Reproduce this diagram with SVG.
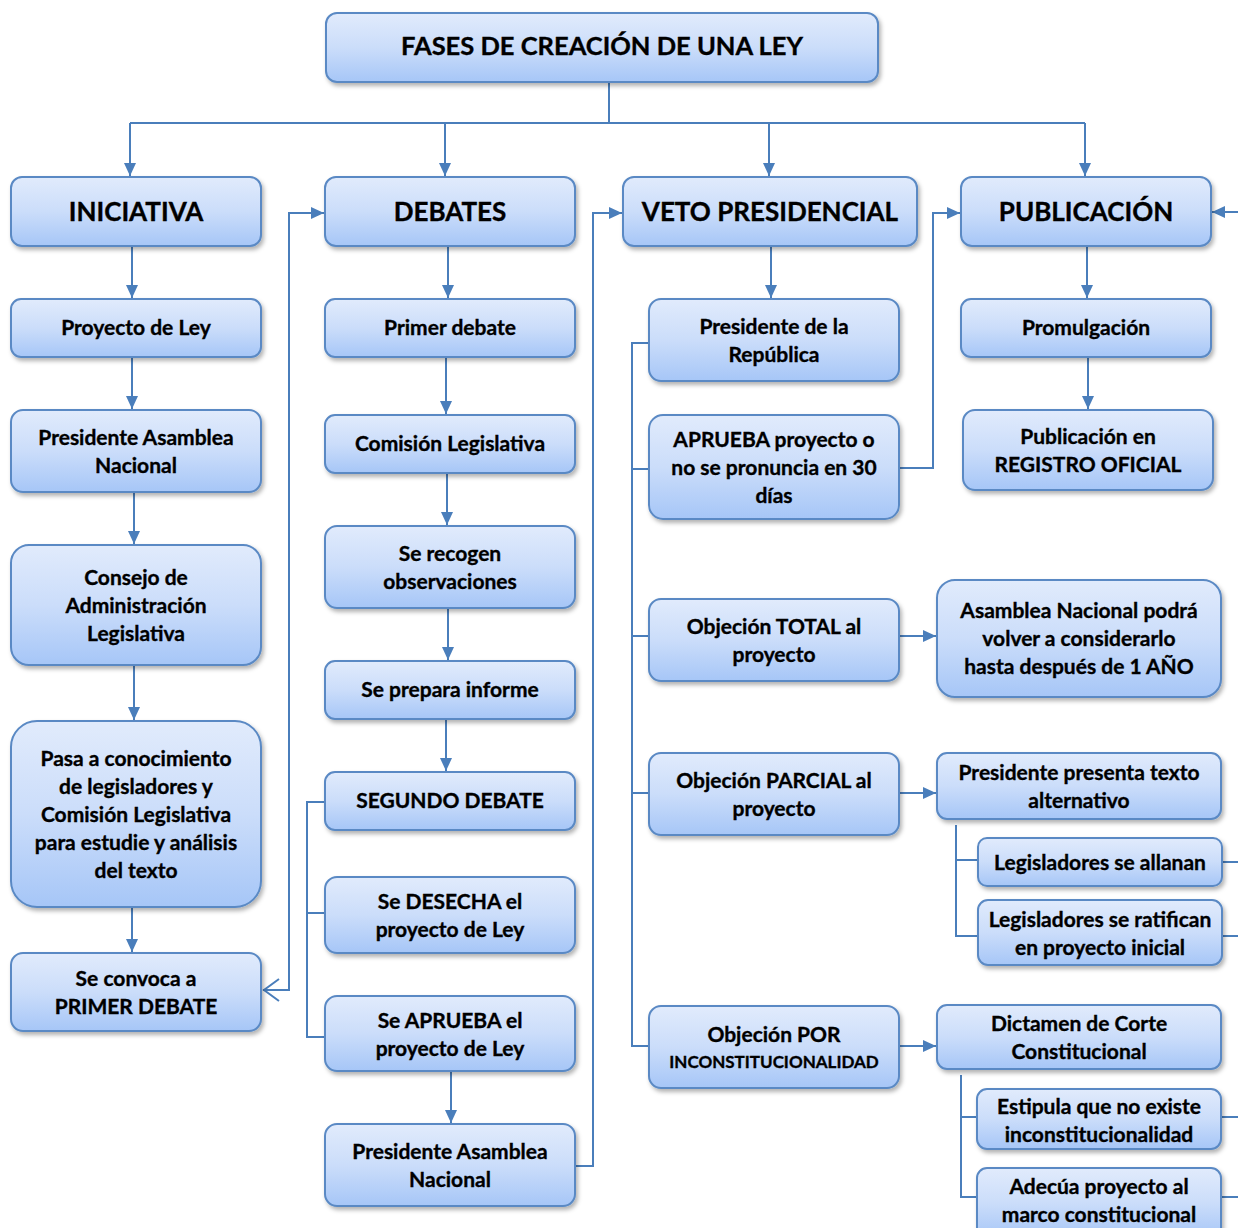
<svg xmlns="http://www.w3.org/2000/svg" width="1238" height="1228" viewBox="0 0 1238 1228">
<style>
.b{fill:url(#g);stroke:#5a89c4;stroke-width:2;filter:url(#sh)}
.t{font-family:Lato,"Open Sans","Liberation Sans",sans-serif;font-weight:bold;font-size:21px;fill:#000;stroke:#000;stroke-width:0.35;text-anchor:middle}
.h{font-size:26px}
.c{fill:none;stroke:#4a7ebb;stroke-width:2}
.a{marker-end:url(#ah)}
</style>
<defs>
<linearGradient id="g" x1="0" y1="0" x2="0" y2="1">
<stop offset="0" stop-color="#e1ebfc"/>
<stop offset="0.5" stop-color="#cbddfa"/>
<stop offset="1" stop-color="#a6c6f7"/>
</linearGradient>
<filter id="sh" x="-10%" y="-10%" width="125%" height="130%">
<feDropShadow dx="2" dy="3" stdDeviation="2" flood-color="#000" flood-opacity="0.3"/>
</filter>
<marker id="ah" markerWidth="14" markerHeight="14" refX="13" refY="7" orient="auto" markerUnits="userSpaceOnUse">
<path d="M0,1 L13,7 L0,13 z" fill="#4a7ebb"/>
</marker>
</defs>
<g id="connectors">
<path class="c" d="M609,82 V123 M130,123 H1085"/>
<path class="c a" d="M130,123 V176"/>
<path class="c a" d="M445,123 V176"/>
<path class="c a" d="M769,123 V176"/>
<path class="c a" d="M1085,123 V176"/>
<path class="c a" d="M132,247 V298"/>
<path class="c a" d="M132,358 V409"/>
<path class="c a" d="M134,493 V544"/>
<path class="c a" d="M134,666 V720"/>
<path class="c a" d="M132,908 V952"/>
<path class="c a" d="M448,247 V298"/>
<path class="c a" d="M446,358 V414"/>
<path class="c a" d="M447,474 V525"/>
<path class="c a" d="M448,609 V660"/>
<path class="c a" d="M446,720 V771"/>
<path class="c a" d="M451,1072 V1123"/>
<path class="c a" d="M771,247 V298"/>
<path class="c a" d="M1087,247 V298"/>
<path class="c a" d="M1088,358 V409"/>
<path class="c a" d="M263,990 H289 V213 H324"/>
<path class="c" d="M279,979 L264,990 L279,1001"/>
<path class="c a" d="M576,1166 H593 V213 H622"/>
<path class="c a" d="M900,468 H933 V213 H960"/>
<path class="c a" d="M1238,212 H1212"/>
<path class="c" d="M325,802 H307 V1037 H325 M307,913 H325"/>
<path class="c" d="M649,343 H632 V1046 H649 M632,469 H649 M632,636 H649 M632,793 H649"/>
<path class="c a" d="M900,636 H936"/>
<path class="c a" d="M900,793 H936"/>
<path class="c a" d="M900,1046 H936"/>
<path class="c" d="M956,825 V936 H977 M956,860 H977"/>
<path class="c" d="M1222,862 H1238 M1222,936 H1238"/>
<path class="c" d="M961,1075 V1197 H976 M961,1117 H976"/>
<path class="c" d="M1222,1117 H1238 M1222,1197 H1238"/>
</g>
<g id="n-title"><rect class="b" x="326" y="13" width="552" height="69" rx="11"/><text class="t" x="602" y="55" style="font-size:25.5px">FASES DE CREACIÓN DE UNA LEY</text></g>
<g id="n-iniciativa"><rect class="b" x="11" y="177" width="250" height="69" rx="11"/><text class="t h" x="136" y="221">INICIATIVA</text></g>
<g id="n-debates"><rect class="b" x="325" y="177" width="250" height="69" rx="11"/><text class="t h" x="450" y="221">DEBATES</text></g>
<g id="n-veto"><rect class="b" x="623" y="177" width="294" height="69" rx="11"/><text class="t h" x="770" y="221">VETO PRESIDENCIAL</text></g>
<g id="n-publicacion"><rect class="b" x="961" y="177" width="250" height="69" rx="11"/><text class="t h" x="1086" y="221">PUBLICACIÓN</text></g>
<g id="n-proyecto"><rect class="b" x="11" y="299" width="250" height="58" rx="10"/><text class="t" x="136" y="335">Proyecto de Ley</text></g>
<g id="n-pres-asamblea1"><rect class="b" x="11" y="410" width="250" height="82" rx="12"/><text class="t" x="136" y="445">Presidente Asamblea</text><text class="t" x="136" y="473">Nacional</text></g>
<g id="n-consejo"><rect class="b" x="11" y="545" width="250" height="120" rx="18"/><text class="t" x="136" y="585">Consejo de</text><text class="t" x="136" y="613">Administración</text><text class="t" x="136" y="641">Legislativa</text></g>
<g id="n-pasa"><rect class="b" x="11" y="721" width="250" height="186" rx="26"/><text class="t" x="136" y="766">Pasa a conocimiento</text><text class="t" x="136" y="794">de legisladores y</text><text class="t" x="136" y="822">Comisión Legislativa</text><text class="t" x="136" y="850">para estudie y análisis</text><text class="t" x="136" y="878">del texto</text></g>
<g id="n-convoca"><rect class="b" x="11" y="953" width="250" height="78" rx="12"/><text class="t" x="136" y="986">Se convoca a</text><text class="t" x="136" y="1014">PRIMER DEBATE</text></g>
<g id="n-primer"><rect class="b" x="325" y="299" width="250" height="58" rx="10"/><text class="t" x="450" y="335">Primer debate</text></g>
<g id="n-comision"><rect class="b" x="325" y="415" width="250" height="58" rx="10"/><text class="t" x="450" y="451">Comisión Legislativa</text></g>
<g id="n-recogen"><rect class="b" x="325" y="526" width="250" height="82" rx="12"/><text class="t" x="450" y="561">Se recogen</text><text class="t" x="450" y="589">observaciones</text></g>
<g id="n-informe"><rect class="b" x="325" y="661" width="250" height="58" rx="10"/><text class="t" x="450" y="697">Se prepara informe</text></g>
<g id="n-segundo"><rect class="b" x="325" y="772" width="250" height="58" rx="10"/><text class="t" x="450" y="808">SEGUNDO DEBATE</text></g>
<g id="n-desecha"><rect class="b" x="325" y="877" width="250" height="76" rx="12"/><text class="t" x="450" y="909">Se DESECHA el</text><text class="t" x="450" y="937">proyecto de Ley</text></g>
<g id="n-aprueba"><rect class="b" x="325" y="996" width="250" height="75" rx="12"/><text class="t" x="450" y="1028">Se APRUEBA el</text><text class="t" x="450" y="1056">proyecto de Ley</text></g>
<g id="n-pres-asamblea2"><rect class="b" x="325" y="1124" width="250" height="82" rx="12"/><text class="t" x="450" y="1159">Presidente Asamblea</text><text class="t" x="450" y="1187">Nacional</text></g>
<g id="n-pres-republica"><rect class="b" x="649" y="299" width="250" height="82" rx="12"/><text class="t" x="774" y="334">Presidente de la</text><text class="t" x="774" y="362">República</text></g>
<g id="n-aprueba-veto"><rect class="b" x="649" y="415" width="250" height="104" rx="14"/><text class="t" x="774" y="447">APRUEBA proyecto o</text><text class="t" x="774" y="475">no se pronuncia en 30</text><text class="t" x="774" y="503">días</text></g>
<g id="n-total"><rect class="b" x="649" y="599" width="250" height="82" rx="12"/><text class="t" x="774" y="634">Objeción TOTAL al</text><text class="t" x="774" y="662">proyecto</text></g>
<g id="n-parcial"><rect class="b" x="649" y="753" width="250" height="82" rx="12"/><text class="t" x="774" y="788">Objeción PARCIAL al</text><text class="t" x="774" y="816">proyecto</text></g>
<g id="n-inconst"><rect class="b" x="649" y="1006" width="250" height="82" rx="12"/><text class="t" x="774" y="1042">Objeción POR</text><text class="t" x="774" y="1068" style="font-size:17px">INCONSTITUCIONALIDAD</text></g>
<g id="n-asamblea-ano"><rect class="b" x="937" y="580" width="284" height="117" rx="18"/><text class="t" x="1079" y="618">Asamblea Nacional podrá</text><text class="t" x="1079" y="646">volver a considerarlo</text><text class="t" x="1079" y="674">hasta después de 1 AÑO</text></g>
<g id="n-texto-alt"><rect class="b" x="937" y="753" width="284" height="66" rx="10"/><text class="t" x="1079" y="780">Presidente presenta texto</text><text class="t" x="1079" y="808">alternativo</text></g>
<g id="n-allanan"><rect class="b" x="978" y="838" width="244" height="48" rx="9"/><text class="t" x="1100" y="870">Legisladores se allanan</text></g>
<g id="n-ratifican"><rect class="b" x="978" y="900" width="244" height="65" rx="10"/><text class="t" x="1100" y="927">Legisladores se ratifican</text><text class="t" x="1100" y="955">en proyecto inicial</text></g>
<g id="n-dictamen"><rect class="b" x="937" y="1005" width="284" height="64" rx="10"/><text class="t" x="1079" y="1031">Dictamen de Corte</text><text class="t" x="1079" y="1059">Constitucional</text></g>
<g id="n-estipula"><rect class="b" x="977" y="1089" width="244" height="60" rx="10"/><text class="t" x="1099" y="1114">Estipula que no existe</text><text class="t" x="1099" y="1142">inconstitucionalidad</text></g>
<g id="n-adecua"><rect class="b" x="977" y="1168" width="244" height="70" rx="10"/><text class="t" x="1099" y="1194">Adecúa proyecto al</text><text class="t" x="1099" y="1222">marco constitucional</text></g>
<g id="n-promulgacion"><rect class="b" x="961" y="299" width="250" height="58" rx="10"/><text class="t" x="1086" y="335">Promulgación</text></g>
<g id="n-registro"><rect class="b" x="963" y="410" width="250" height="80" rx="12"/><text class="t" x="1088" y="444">Publicación en</text><text class="t" x="1088" y="472">REGISTRO OFICIAL</text></g>
</svg>
